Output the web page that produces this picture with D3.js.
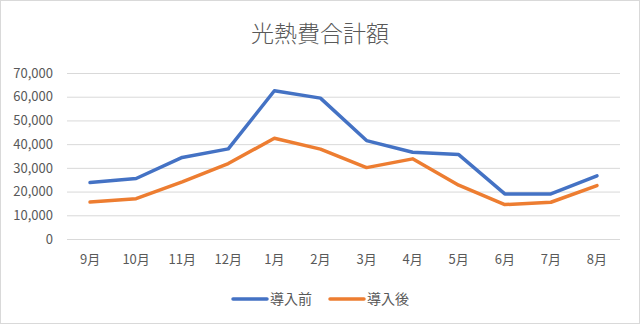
<!DOCTYPE html>
<html>
<head>
<meta charset="utf-8">
<script src="https://cdn.jsdelivr.net/npm/d3@7"></script>
<style>
  html, body { margin: 0; padding: 0; background: #fff; }
  svg { display: block; }
  text { font-family: "Noto Sans CJK JP", "Noto Sans", sans-serif; fill: #595959; }
</style>
</head>
<body>
<svg id="chart" width="640" height="324"></svg>
<script>
const title = "光熱費合計額";
const months = ["9月", "10月", "11月", "12月", "1月", "2月", "3月", "4月", "5月", "6月", "7月", "8月"];
const before = [23800, 25500, 34400, 38000, 62500, 59400, 41500, 36600, 35600, 19000, 19000, 26600];
const after = [15600, 17000, 24100, 31800, 42500, 37900, 30100, 33800, 22700, 14500, 15500, 22500];
const seriesNames = ["導入前", "導入後"];
const yTicks = [0, 10000, 20000, 30000, 40000, 50000, 60000, 70000];

const colors = ["#4472c4", "#ed7d31"];
const W = 640, H = 324;
const plot = { left: 67, right: 620, top: 73, bottom: 239 };

const svg = d3.select("#chart");

// outer frame
svg.append("rect")
  .attr("x", 0.5).attr("y", 0.5)
  .attr("width", W - 1).attr("height", H - 1)
  .attr("fill", "#fff").attr("stroke", "#d9d9d9");

svg.append("text")
  .attr("x", 320).attr("y", 42)
  .attr("text-anchor", "middle")
  .attr("font-size", 23)
  .attr("font-weight", 300)
  .text(title);

const x = d3.scaleBand().domain(months).range([plot.left, plot.right]);
const y = d3.scaleLinear().domain([0, 70000]).range([plot.bottom, plot.top]);

// horizontal gridlines + y labels
const yAxis = d3.axisLeft(y)
  .tickValues(yTicks)
  .tickSize(-(plot.right - plot.left))
  .tickPadding(14)
  .tickFormat(d3.format(","));
const gy = svg.append("g").attr("transform", `translate(${plot.left},0)`).call(yAxis);
gy.select(".domain").remove();
gy.selectAll(".tick line").attr("stroke", "#d9d9d9").attr("stroke-width", 1);
gy.selectAll(".tick text").attr("font-size", 13).attr("fill", "#595959");

// x labels
const xAxis = d3.axisBottom(x).tickSize(0).tickPadding(16);
const gx = svg.append("g").attr("transform", `translate(0,${plot.bottom})`).call(xAxis);
gx.select(".domain").remove();
gx.selectAll(".tick text").attr("font-size", 13).attr("fill", "#595959");

const line = d3.line()
  .x((d, i) => x(months[i]) + x.bandwidth() / 2)
  .y(d => y(d));

[before, after].forEach((vals, k) => {
  svg.append("path")
    .datum(vals)
    .attr("d", line)
    .attr("fill", "none")
    .attr("stroke", colors[k])
    .attr("stroke-width", 3.5)
    .attr("stroke-linejoin", "round")
    .attr("stroke-linecap", "round");
});

// legend
const legendX = [233, 330];
seriesNames.forEach((name, k) => {
  const g = svg.append("g").attr("transform", `translate(${legendX[k]},299)`);
  g.append("line")
    .attr("x1", 0).attr("x2", 34).attr("y1", 0).attr("y2", 0)
    .attr("stroke", colors[k]).attr("stroke-width", 3.5)
    .attr("stroke-linecap", "round");
  g.append("text")
    .attr("x", 37).attr("y", 5)
    .attr("font-size", 14)
    .text(name);
});
</script>
</body>
</html>
